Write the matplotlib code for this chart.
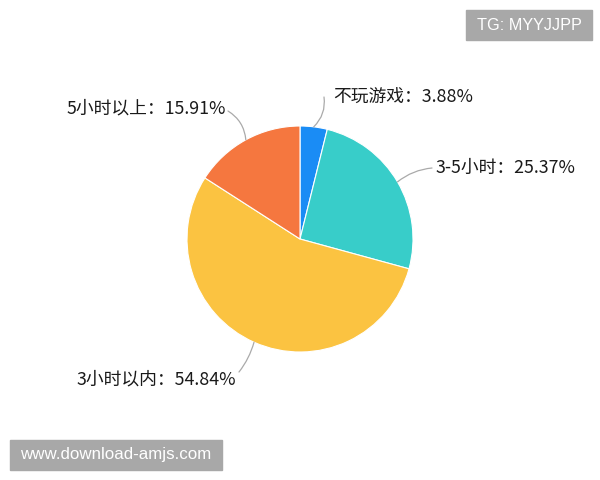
import numpy as np
import matplotlib
matplotlib.use("Agg")
import matplotlib.pyplot as plt
from matplotlib.patches import Rectangle

plt.rcParams['font.family'] = ['Noto Sans CJK SC', 'DejaVu Sans']

# data
labels = ['不玩游戏', '3-5小时', '3小时以内', '5小时以上']
values = [3.88, 25.37, 54.84, 15.91]
colors = ['#1a8cf5', '#38cdc9', '#fbc341', '#f5773f']

# label placement (pixel coords, y from top): text x, text y, align, line end x, line end y, curve
label_pos = [
    (333, 98, 'left', 324, 97, -0.25),
    (436, 168, 'left', 432, 168, 0.15),
    (236, 379, 'right', 239, 372, 0.1),
    (226, 108, 'right', 228, 111, -0.25),
]

W, H = 600, 480
def py(y):
    return H - y

fig = plt.figure(figsize=(6, 4.8), dpi=100)
ax = fig.add_axes([0, 0, 1, 1])

cx, cy, r = 300, py(239), 113
wedges, _ = ax.pie(values, colors=colors, startangle=90, counterclock=False,
                   center=(cx, cy), radius=r,
                   wedgeprops=dict(edgecolor='white', linewidth=0.8))

for w, lab, val, lp in zip(wedges, labels, values, label_pos):
    tx, ty, ha, lx, ly, rad = lp
    ang = np.deg2rad((w.theta1 + w.theta2) / 2)
    px_ = cx + r * np.cos(ang)
    py_ = cy + r * np.sin(ang)
    ax.annotate('', xy=(px_, py_), xytext=(lx, py(ly)),
                arrowprops=dict(arrowstyle='-', color='#aaaaaa', lw=0.9,
                                shrinkA=0, shrinkB=0,
                                connectionstyle='arc3,rad=%s' % rad))
    ax.text(tx, py(ty), '%s：%.2f%%' % (lab, val), ha=ha, va='center',
            fontsize=12.8, color='#1a1a1a')

# watermark boxes
ax.add_patch(Rectangle((466, py(40)), 126, 30, color='#a8a8a8', zorder=5))
ax.text(529, py(25.5), 'TG: MYYJJPP', ha='center', va='center', color='white',
        fontsize=11.7, family='Liberation Sans', zorder=6)
ax.add_patch(Rectangle((10, py(470)), 212, 30, color='#a8a8a8', zorder=5))
ax.text(116, py(455), 'www.download-amjs.com', ha='center', va='center',
        color='white', fontsize=12.2, family='Liberation Sans', zorder=6)

ax.set_xlim(0, W)
ax.set_ylim(0, H)
ax.set_aspect('equal')
ax.axis('off')

fig.savefig('out.png', dpi=100)
